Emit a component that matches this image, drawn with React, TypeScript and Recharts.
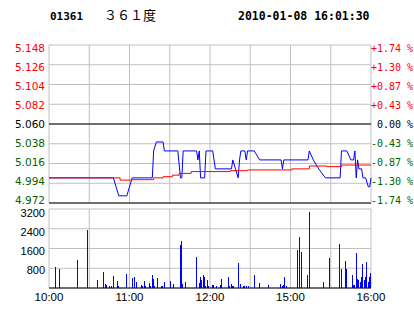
import { ComposedChart, Line, Bar, XAxis, YAxis, CartesianGrid, ReferenceLine } from 'recharts';

// 01361 intraday, HK session 10:00-12:30 / 14:30-16:00 (minute index 0..240)
const PREV_CLOSE = 5.06;

const priceTicks = [4.972, 4.994, 5.016, 5.038, 5.06, 5.082, 5.104, 5.126, 5.148];
const volTicks = [0, 800, 1600, 2400, 3200];
const gridMinutes = [0, 30, 60, 90, 120, 150, 180, 210, 240];
const timeLabels: Record<number, string> = { 0: '10:00', 60: '11:00', 120: '12:00', 180: '15:00', 240: '16:00' };

const priceMinutes = [
  0, 48, 50, 52, 58, 60, 62, 77, 78, 80, 85, 86, 96, 98, 99, 100, 110, 111, 112, 113, 116, 117, 122, 124,
  136, 137, 139, 141, 142, 143, 146, 147, 148, 153, 157, 173, 174, 175, 193, 194, 197, 201, 206, 217, 218,
  222, 225, 227, 228, 229, 230, 231, 233, 234, 236, 238, 239, 240,
];
const priceValues = [
  5.0, 5.0, 4.99, 4.98, 4.98, 4.99, 5.0, 5.0, 5.03, 5.04, 5.04, 5.03, 5.03, 5.0, 5.0, 5.03, 5.03, 5.02, 5.03, 5.0, 5.0, 5.03, 5.03, 5.01,
  5.01, 5.02, 5.01, 5.0, 5.02, 5.03, 5.03, 5.02, 5.03, 5.03, 5.02, 5.02, 5.01, 5.02, 5.02, 5.03, 5.02, 5.01, 5.0, 5.0, 5.03,
  5.03, 5.02, 5.02, 5.03, 5.0, 5.02, 5.01, 5.01, 5.0, 5.0, 4.99, 4.99, 5.0,
];

const avgMinutes = [0, 53, 62, 78, 85, 92, 97, 106, 135, 148, 181, 194, 207, 218, 240];
const avgValues = [5.0, 4.9975, 4.998, 5.0, 5.0013, 5.003, 5.005, 5.007, 5.008, 5.0088, 5.01, 5.0132, 5.0125, 5.0143, 5.0143];

const volMinutes = [
  5, 8, 21, 29, 36, 41, 42, 43, 45, 47, 48, 51, 52, 58, 62, 64, 65, 69, 70, 71, 72, 75, 76, 77, 78, 79, 81,
  84, 85, 86, 91, 93, 98, 99, 100, 102, 110, 112, 113, 114, 115, 116, 117, 118, 119, 122, 123, 125, 128, 129,
  134, 135, 136, 137, 138, 141, 143, 145, 146, 147, 149, 153, 157, 164, 173, 174, 175, 176, 177, 185, 187, 188,
  193, 194, 205, 209, 217, 218, 221, 222, 226, 227, 228, 229, 230, 231, 232, 233, 234, 235, 236, 237, 238, 239, 240,
];
const volValues = [
  850, 780, 1140, 2350, 335, 660, 175, 135, 90, 90, 500, 295, 90, 580, 415, 455, 255, 135, 90, 295, 90, 215, 90, 535, 375, 90, 415,
  90, 90, 255, 295, 175, 1750, 1910, 175, 255, 1265, 215, 455, 335, 535, 455, 90, 335, 90, 135, 135, 90, 135, 375,
  455, 90, 175, 90, 90, 1020, 175, 90, 90, 90, 90, 535, 215, 135, 175, 90, 135, 455, 90, 1545, 2070, 1465,
  535, 3080, 255, 1225, 1790, 780, 1100, 780, 535, 135, 135, 1425, 375, 335, 255, 455, 980, 335, 455, 1060, 255, 455, 595,
];

const priceData = priceMinutes.map((t, i) => ({ t, p: priceValues[i] }));
const avgData = avgMinutes.map((t, i) => ({ t, a: avgValues[i] }));
const volData = volMinutes.map((t, i) => ({ t, v: volValues[i] }));

const RED = '#ff0000';
const GREEN = '#006400';
const GRID = '#c0c0c0';

const levelColor = (v: number) => (v > PREV_CLOSE + 1e-6 ? RED : v < PREV_CLOSE - 1e-6 ? GREEN : '#000');
// labels sit a bit tighter than the grid lines
const labelY = (y: number) => 124.5 + (y - 124.3) * 0.964 + 4;

// price on the left, change vs previous close on the right
function PriceTick({ y, payload }: any) {
  const v = payload.value as number;
  const pct = ((v - PREV_CLOSE) / PREV_CLOSE) * 100;
  const sign = pct > 0.001 ? '+' : pct < -0.001 ? '-' : ' ';
  const ty = labelY(y);
  return (
    <g>
      <text x={45} y={ty} textAnchor="end" fill={levelColor(v)} fontFamily="DejaVu Sans" fontSize={10.5}>
        {v.toFixed(3)}
      </text>
      <text x={371} y={ty} fill={levelColor(v)} fontFamily="DejaVu Sans Mono" fontSize={10} style={{ whiteSpace: 'pre' }}>
        {`${sign}${Math.abs(pct).toFixed(2)} %`}
      </text>
    </g>
  );
}

function VolTick({ y, payload }: any) {
  if (payload.value === 0) return <g />;
  const cy = 270.3 - (269 - (y + 206)) * 0.96 - 206;
  return (
    <text x={45} y={cy + 4} textAnchor="end" fill="#000" fontFamily="Liberation Sans" fontSize={11}>
      {payload.value}
    </text>
  );
}

function TimeTick({ x, payload }: any) {
  const label = timeLabels[payload.value];
  if (!label) return <g />;
  return (
    <text x={x} y={94.5} textAnchor="middle" fill="#000" fontFamily="Liberation Sans" fontSize={11.5}>
      {label}
    </text>
  );
}

function VolBar({ x, y, width, height }: any) {
  if (!height) return <g />;
  return <rect x={Math.round(x + width / 2 - 0.5)} y={y} width={1} height={height} fill="#0000ff" shapeRendering="crispEdges" />;
}

export default function App() {
  return (
    <div style={{ position: 'absolute', left: 0, top: 0, width: 414, height: 314, background: '#fff', overflow: 'hidden' }}>
      <div style={{ position: 'absolute', left: 0, top: 0 }}>
        <ComposedChart width={414} height={206} margin={{ top: 45, right: 43, bottom: 3, left: 0 }}>
          <XAxis dataKey="t" type="number" domain={[0, 240]} ticks={gridMinutes} hide />
          <YAxis domain={[4.972, 5.148]} ticks={priceTicks} interval={0} width={49} axisLine={false} tickLine={false} tick={(p: any) => <PriceTick {...p} />} />
          <CartesianGrid stroke={GRID} />
          <ReferenceLine y={5.06} stroke="#000" />
          <ReferenceLine y={4.972} stroke="#000" />
          <Line data={priceData} dataKey="p" type="linear" stroke="#0000ff" strokeWidth={1} dot={false} isAnimationActive={false} />
          <Line data={avgData} dataKey="a" type="stepAfter" stroke={RED} strokeWidth={1} dot={false} isAnimationActive={false} />
        </ComposedChart>
      </div>
      <div style={{ position: 'absolute', left: 0, top: 206 }}>
        <ComposedChart width={414} height={108} data={volData} margin={{ top: 3, right: 43, bottom: 0, left: 0 }}>
          <XAxis dataKey="t" type="number" domain={[0, 240]} ticks={gridMinutes} interval={0} height={26} axisLine={false} tickLine={false} tick={(p: any) => <TimeTick {...p} />} />
          <YAxis domain={[0, 3200]} ticks={volTicks} interval={0} width={49} axisLine={false} tickLine={false} tick={(p: any) => <VolTick {...p} />} />
          <CartesianGrid stroke={GRID} />
          <Bar dataKey="v" fill="#0000ff" barSize={1} shape={(p: any) => <VolBar {...p} />} isAnimationActive={false} />
          <ReferenceLine y={0} stroke="#000" />
        </ComposedChart>
      </div>
      <svg style={{ position: 'absolute', left: 0, top: 0 }} width={414} height={30}>
        <text x={50} y={20} fontFamily="DejaVu Sans Mono" fontWeight="bold" fontSize={11}>01361</text>
        <text x="104 117 130 143" y={20} fontFamily="Noto Sans CJK TC" fontSize={13}>３６１度</text>
        <text x={238} y={20} fontFamily="DejaVu Sans Mono" fontWeight="bold" fontSize={11.5}>2010-01-08 16:01:30</text>
      </svg>
    </div>
  );
}
